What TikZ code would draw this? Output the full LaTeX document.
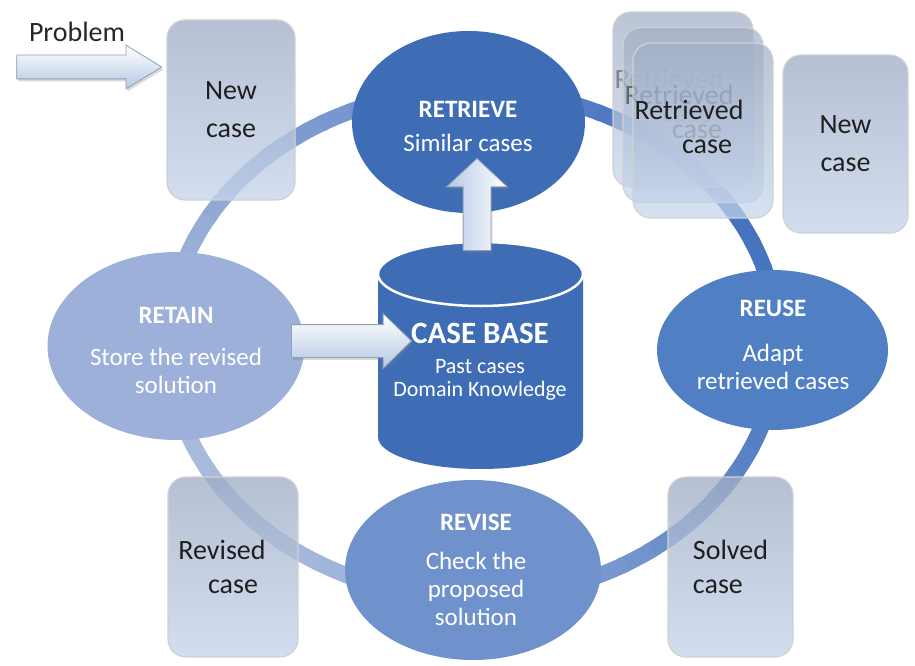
\documentclass[tikz,border=0pt]{standalone}
\usepackage{fontspec}
\setmainfont{Carlito}
\usepackage{tikz}
\usetikzlibrary{shapes,arrows}
\usetikzlibrary{positioning}
\usetikzlibrary{shapes.geometric}
\usetikzlibrary{shadows}

\begin{document}
\begin{tikzpicture}[x=1pt,y=-1pt]
\useasboundingbox (0,0) rectangle (915,666);
\definecolor{ringlight}{HTML}{A9BBDD};
\definecolor{ringdark}{HTML}{4573BE};
\definecolor{retrieveblue}{HTML}{3E6DB6};
\definecolor{reuseblue}{HTML}{5080C3};
\definecolor{reviseblue}{HTML}{7092CC};
\definecolor{retainblue}{HTML}{9CB0D9};
\definecolor{boxtop}{HTML}{A0AEC6};
\definecolor{boxbot}{HTML}{C6D5EC};
\definecolor{arrowblue}{HTML}{B5C8E4};

\tikzstyle{casebox}=[rectangle, rounded corners=18pt, draw=white!82!black, line width=1.2pt, top color=boxtop, bottom color=boxbot, fill opacity=0.78, text opacity=1, minimum width=128, minimum height=180, inner sep=0pt, align=center, font=\fontsize{28}{38}\selectfont, text=black!88];
\tikzstyle{card}=[casebox, minimum width=140, minimum height=175, fill opacity=0.72];
\tikzstyle{cardtxt}=[inner sep=0pt, font=\fontsize{28}{38}\selectfont, text=black!88];
\tikzstyle{ghosttxt}=[cardtxt, text=black!60];
\tikzstyle{stage}=[ellipse, inner sep=0pt];
\tikzstyle{stagetxt}=[text=white, align=center, inner sep=0pt, font=\fontsize{25}{28}\selectfont];
\tikzstyle{bigarrow}=[single arrow, single arrow head indent=0pt, draw=black!20!arrowblue, line width=0.8pt, drop shadow={opacity=0.3, shadow xshift=1.5pt, shadow yshift=-2.5pt}];

% the cycle
\def \ringx{473};
\def \ringy{344};
\foreach \a in {0,6,...,354}{
  \pgfmathtruncatemacro\mix{50+50*cos(\a+30)}
  \draw[line width=16, ringdark!\mix!ringlight] (\ringx,\ringy) ++(\a:305 and 254) arc[start angle=\a, end angle=\a+7, x radius=305, y radius=254];
}

\node[font=\fontsize{28}{30}\selectfont, text=black!85] (problem) at (77,32) {Problem};

% case boxes
\node[casebox] (newcase) at (231,110) {New\\case};
\node[casebox, minimum width=125, minimum height=178] (newcaseb) at (845.5,144) {New\\case};
\node[casebox, minimum width=130, font=\fontsize{28}{34}\selectfont] (revised) at (233,567) {Revised\hspace*{22pt}\\case};
\node[casebox, minimum width=125, align=left, font=\fontsize{28}{34}\selectfont] (solved) at (730.5,567) {Solved\\case};

% retrieved stack
\node[card] (card1) at (683,99.5) {};
\node[ghosttxt, opacity=0.7] (rtxt1) at ([shift={(-14,-20.5)}]card1.center) {Retrieved};
\node[ghosttxt, opacity=0.7] (ctxt1) at ([shift={(4,16.5)}]card1.center) {case};
\node[card] (card2) at (693,115) {};
\node[ghosttxt] (rtxt2) at ([shift={(-14,-20.5)}]card2.center) {Retrieved};
\node[ghosttxt] (ctxt2) at ([shift={(4,16.5)}]card2.center) {case};
\node[card] (card3) at (703,130.5) {};
\node[cardtxt] (rtxt3) at ([shift={(-14,-20.5)}]card3.center) {Retrieved};
\node[cardtxt] (ctxt3) at ([shift={(4,16.5)}]card3.center) {case};

% the four steps
\node[stage, fill=retrieveblue, minimum width=233, minimum height=182] (retrieve) at (468.5,122) {};
\node[stage, fill=retainblue, minimum width=257, minimum height=188] (retain) at (176,346) {};
\node[stage, fill=reuseblue, minimum width=231, minimum height=160] (reuse) at (772.5,350) {};
\node[stage, fill=reviseblue, minimum width=256, minimum height=180] (revise) at (473,570) {};

\node[stagetxt] (retrievetxt) at (468,126) {\textbf{RETRIEVE}\\[6pt]Similar cases};
\node[stagetxt] (retaintxt) at (176,350) {\textbf{RETAIN}\\[14pt]Store the revised\\solution};
\node[stagetxt] (reusetxt) at (773,345) {\textbf{REUSE}\\[17pt]Adapt\\retrieved cases};
\node[stagetxt] (revisetxt) at (476,570) {\textbf{REVISE}\\[11pt]Check the\\proposed\\solution};

% case base drum
\def \cbx{480.5};
\def \cbw{102.5};
\def \cbtop{274};
\def \cbbot{437};
\def \cbry{32};
\fill[retrieveblue] (\cbx-\cbw,\cbtop) -- (\cbx-\cbw,\cbbot) arc[start angle=180, end angle=0, x radius=\cbw, y radius=\cbry] -- (\cbx+\cbw,\cbtop) -- cycle;
\draw[white, line width=2.5, fill=retrieveblue] (\cbx,\cbtop) ellipse [x radius=\cbw, y radius=\cbry];
\node[stagetxt, font=\fontsize{22}{23}\selectfont] (casebase) at (480,362) {{\fontsize{31}{31}\selectfont\bfseries CASE BASE}\\[7pt]Past cases\\Domain Knowledge};

% block arrows
\node[bigarrow, top color=white, bottom color=arrowblue, inner sep=11.5pt, minimum height=145, single arrow head extend=10, single arrow tip angle=63] (probarrow) at (79.5,67) {};
\node[bigarrow, shape border rotate=90, left color=arrowblue, right color=white, inner sep=13.5pt, minimum height=92, single arrow head extend=16.5, single arrow tip angle=94] (uparrow) at (477,211) {};
\node[bigarrow, top color=white, bottom color=arrowblue, inner sep=16pt, minimum height=120, single arrow head extend=11, single arrow tip angle=88] (retainarrow) at (343,341) {};

\end{tikzpicture}
\end{document}
